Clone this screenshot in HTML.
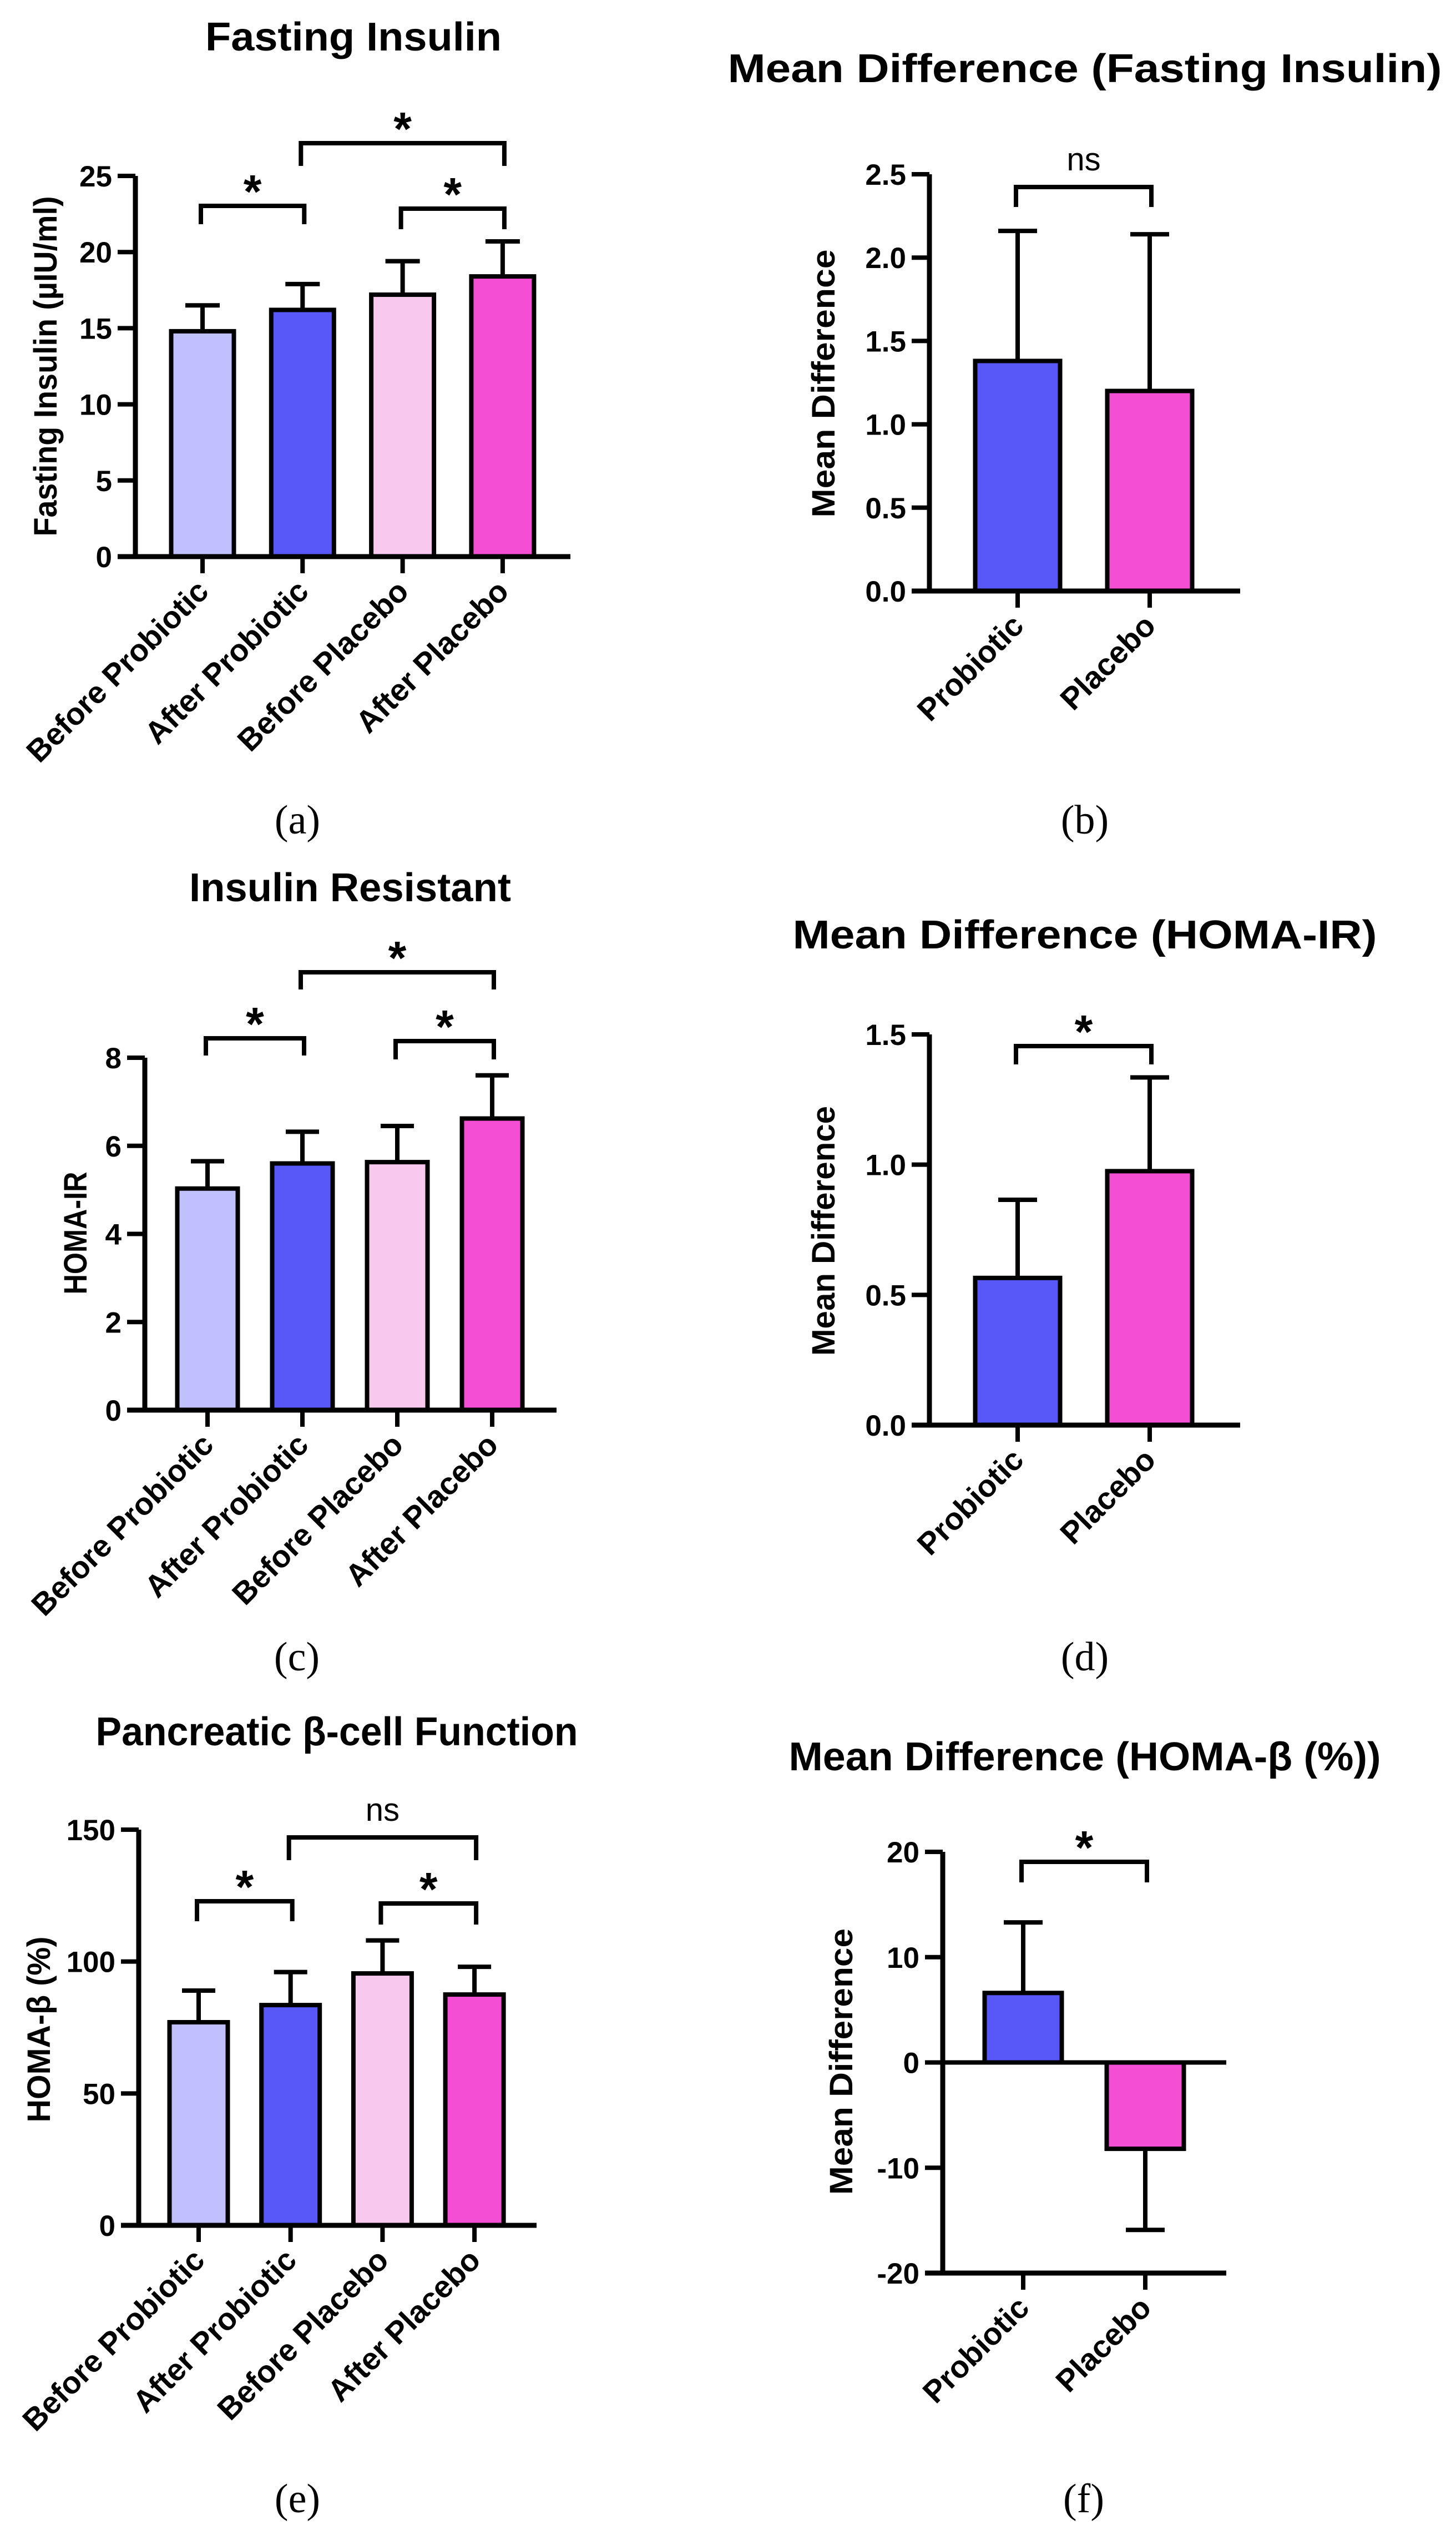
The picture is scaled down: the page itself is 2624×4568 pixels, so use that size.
<!DOCTYPE html>
<html><head><meta charset="utf-8"><style>
html,body{margin:0;padding:0;background:#fff;}
svg{display:block;font-family:"Liberation Sans",Arial,sans-serif;}
</style></head><body>
<svg id="fig" width="2624" height="4568" viewBox="0 0 2624 4568" xmlns="http://www.w3.org/2000/svg">
<rect width="2624" height="4568" fill="#fff"/>
</svg>
<script>
// ---- data ----
const fourCats = ["Before  Probiotic", "After Probiotic", "Before Placebo", "After Placebo"];
const twoCats = ["Probiotic", "Placebo"];
const insulinMeans = [14.8, 16.2, 17.2, 18.4];
const insulinErrTop = [16.5, 17.9, 19.4, 20.7];
const insulinTicks = [0, 5, 10, 15, 20, 25];
const insulinDiffMeans = [1.38, 1.20];
const insulinDiffErrTop = [2.16, 2.14];
const insulinDiffTicks = ["0.0", "0.5", "1.0", "1.5", "2.0", "2.5"];
const homaIrMeans = [5.03, 5.6, 5.63, 6.62];
const homaIrErrTop = [5.65, 6.32, 6.45, 7.6];
const homaIrTicks = [0, 2, 4, 6, 8];
const homaIrDiffMeans = [0.565, 0.975];
const homaIrDiffErrTop = [0.865, 1.335];
const homaIrDiffTicks = ["0.0", "0.5", "1.0", "1.5"];
const homaBMeans = [77, 83.5, 95.5, 87.5];
const homaBErrTop = [89, 96, 108, 98];
const homaBTicks = [0, 50, 100, 150];
const homaBDiffMeans = [6.6, -8.2];
const homaBDiffErrEnd = [13.3, -15.9];
const homaBDiffTicks = [-20, -10, 0, 10, 20];
const fourColors = ["#c0c0ff", "#5858f8", "#f8c8ee", "#f44fd4"];
const twoColors = ["#5858f8", "#f44fd4"];

const NS = "http://www.w3.org/2000/svg";
const svg = document.getElementById("fig");
function mk(tag, attrs, parent, txt) {
  const e = document.createElementNS(NS, tag);
  for (const k in attrs) e.setAttribute(k, attrs[k]);
  if (txt !== undefined) e.textContent = txt;
  (parent || svg).appendChild(e);
  return e;
}

function panel(p) {
  const g = mk("g", {});
  
  
  const vmin = p.vmin, vmax = p.vmax;
  const y = v => p.yBot - (v - vmin) * (p.yBot - p.yTop) / (vmax - vmin);
  const x = i => p.c0 + i * p.step;
  const t = mk("text", {x: p.titleX, y: p.titleY, "text-anchor": "middle", "font-size": 72, "font-weight": "bold", textLength: p.titleLen, lengthAdjust: "spacingAndGlyphs"}, g, p.title);
  
  
  const yl = mk("text", {x: 0, y: 0, transform: `translate(${p.ylX},${p.ylY}) rotate(-90)`, "text-anchor": "middle", "font-size": 58, "font-weight": "bold", textLength: p.ylLen, lengthAdjust: "spacingAndGlyphs"}, g, p.ylabel);
  
  
  p.means.forEach((m, i) => {
    const cx = x(i);
    const top = Math.min(y(m), y(p.base)), bot = Math.max(y(m), y(p.base));
    const r = mk("rect", {x: cx - p.barW / 2, y: top, width: p.barW, height: bot - top, fill: p.colors[i], stroke: "#000", "stroke-width": 8}, g);
    
    
    const ye = y(p.err[i]);
    const eb = mk("path", {d: `M${cx},${y(m)}V${ye}M${cx - p.capW / 2},${ye}H${cx + p.capW / 2}`, stroke: "#000", "stroke-width": 8, fill: "none"}, g);
    
    
  });
  const ax = mk("path", {d: `M${p.axisX},${y(vmax)}V${p.yBot}M${p.axisX - 32},${p.yBot}H${p.xEnd}`, stroke: "#000", "stroke-width": 9, fill: "none"}, g);
  
  
  if (p.zeroLine) {
    const zl = mk("path", {d: `M${p.axisX},${y(0)}H${p.xEnd}`, stroke: "#000", "stroke-width": 8}, g);
    
    
  }
  p.ticks.forEach(tk => {
    const v = parseFloat(tk);
    const tl = mk("path", {d: `M${p.axisX - 32},${y(v)}H${p.axisX}`, stroke: "#000", "stroke-width": 8}, g);
    
    
    const tt = mk("text", {x: p.axisX - 42, y: y(v) + 19, "text-anchor": "end", "font-size": 53, "font-weight": "bold"}, g, String(tk));
    
    
  });
  p.cats.forEach((c, i) => {
    const cx = x(i);
    const xt = mk("path", {d: `M${cx},${p.yBot}V${p.yBot + 30}`, stroke: "#000", "stroke-width": 8}, g);
    
    
    const lx = cx + 14, ly = p.yBot + 66;
    const xl = mk("text", {x: 0, y: 0, transform: `translate(${lx},${ly}) rotate(-45)`, "text-anchor": "end", "font-size": 56, "font-weight": "bold"}, g, c);
    
    
  });
  p.brackets.forEach(b => {
    const x1 = x(b.i) - 3, x2 = x(b.j) + 3;
    const br = mk("path", {d: `M${x1},${b.leg1}V${b.y}H${x2}V${b.leg2}`, stroke: "#000", "stroke-width": 8, fill: "none"}, g);
    
    
    const mx = (x1 + x2) / 2;
    let st;
    if (b.label === "*") st = mk("text", {x: mx, y: b.y + 3, "text-anchor": "middle", "font-size": 84, "font-weight": "bold"}, g, "*");
    else st = mk("text", {x: mx, y: b.y - 30, "text-anchor": "middle", "font-size": 58}, g, b.label);
    
    
  });
  const cap = mk("text", {x: p.capX, y: p.capY, "text-anchor": "middle", "font-size": 74, "font-family": "Liberation Serif, serif"}, g, p.caption);
  
  
}

panel({name: "panel-a-fasting-insulin", title: "Fasting Insulin", titleX: 637, titleY: 91, titleLen: 534,
  ylabel: "Fasting Insulin (µIU/ml)", ylX: 102, ylY: 660, ylLen: 613,
  cats: fourCats, means: insulinMeans, err: insulinErrTop, ticks: insulinTicks, colors: fourColors,
  vmin: 0, vmax: 25, base: 0, yTop: 317, yBot: 1003, axisX: 244, xEnd: 1028, c0: 365, step: 180.3, barW: 113, capW: 62,
  brackets: [{i: 0, j: 1, y: 371, leg1: 404, leg2: 404, label: "*"}, {i: 1, j: 3, y: 258, leg1: 299, leg2: 299, label: "*"}, {i: 2, j: 3, y: 376, leg1: 413, leg2: 413, label: "*"}],
  caption: "(a)", capX: 536, capY: 1502});

panel({name: "panel-b-mean-diff-insulin", title: "Mean Difference (Fasting Insulin)", titleX: 1955, titleY: 148, titleLen: 1287,
  ylabel: "Mean Difference", ylX: 1504, ylY: 691, ylLen: 483,
  cats: twoCats, means: insulinDiffMeans, err: insulinDiffErrTop, ticks: insulinDiffTicks, colors: twoColors,
  vmin: 0, vmax: 2.5, base: 0, yTop: 314, yBot: 1065, axisX: 1675, xEnd: 2235, c0: 1834, step: 238, barW: 153, capW: 70,
  brackets: [{i: 0, j: 1, y: 337, leg1: 373, leg2: 373, label: "ns"}],
  caption: "(b)", capX: 1955, capY: 1502});

panel({name: "panel-c-homa-ir", title: "Insulin Resistant", titleX: 631, titleY: 1624, titleLen: 580,
  ylabel: "HOMA-IR", ylX: 156, ylY: 2222, ylLen: 221,
  cats: fourCats, means: homaIrMeans, err: homaIrErrTop, ticks: homaIrTicks, colors: fourColors,
  vmin: 0, vmax: 8, base: 0, yTop: 1906, yBot: 2541, axisX: 261, xEnd: 1003, c0: 374, step: 171, barW: 109, capW: 60,
  brackets: [{i: 0, j: 1, y: 1871, leg1: 1902, leg2: 1902, label: "*"}, {i: 1, j: 3, y: 1752, leg1: 1783, leg2: 1783, label: "*"}, {i: 2, j: 3, y: 1876, leg1: 1909, leg2: 1909, label: "*"}],
  caption: "(c)", capX: 535, capY: 3010});

panel({name: "panel-d-mean-diff-homa-ir", title: "Mean Difference (HOMA-IR)", titleX: 1955, titleY: 1709, titleLen: 1053,
  ylabel: "Mean Difference", ylX: 1504, ylY: 2218, ylLen: 450,
  cats: twoCats, means: homaIrDiffMeans, err: homaIrDiffErrTop, ticks: homaIrDiffTicks, colors: twoColors,
  vmin: 0, vmax: 1.5, base: 0, yTop: 1864, yBot: 2568, axisX: 1675, xEnd: 2235, c0: 1834, step: 238, barW: 153, capW: 70,
  brackets: [{i: 0, j: 1, y: 1885, leg1: 1918, leg2: 1918, label: "*"}],
  caption: "(d)", capX: 1955, capY: 3010});

panel({name: "panel-e-homa-beta", title: "Pancreatic β-cell Function", titleX: 607, titleY: 3145, titleLen: 869,
  ylabel: "HOMA-β (%)", ylX: 90, ylY: 3657, ylLen: 335,
  cats: fourCats, means: homaBMeans, err: homaBErrTop, ticks: homaBTicks, colors: fourColors,
  vmin: 0, vmax: 150, base: 0, yTop: 3297, yBot: 4010, axisX: 250, xEnd: 967, c0: 358, step: 165.7, barW: 105, capW: 60,
  brackets: [{i: 0, j: 1, y: 3426, leg1: 3462, leg2: 3462, label: "*"}, {i: 1, j: 3, y: 3311, leg1: 3352, leg2: 3352, label: "ns"}, {i: 2, j: 3, y: 3430, leg1: 3468, leg2: 3468, label: "*"}],
  caption: "(e)", capX: 536, capY: 4527});

panel({name: "panel-f-mean-diff-homa-beta", title: "Mean Difference (HOMA-β (%))", titleX: 1955, titleY: 3190, titleLen: 1067,
  ylabel: "Mean Difference", ylX: 1536, ylY: 3715, ylLen: 480,
  cats: twoCats, means: homaBDiffMeans, err: homaBDiffErrEnd, ticks: homaBDiffTicks, colors: twoColors, zeroLine: true,
  vmin: -20, vmax: 20, base: 0, yTop: 3337, yBot: 4096, axisX: 1699, xEnd: 2210, c0: 1844, step: 220, barW: 139, capW: 70,
  brackets: [{i: 0, j: 1, y: 3355, leg1: 3392, leg2: 3392, label: "*"}],
  caption: "(f)", capX: 1953, capY: 4527});
</script>
</body></html>
